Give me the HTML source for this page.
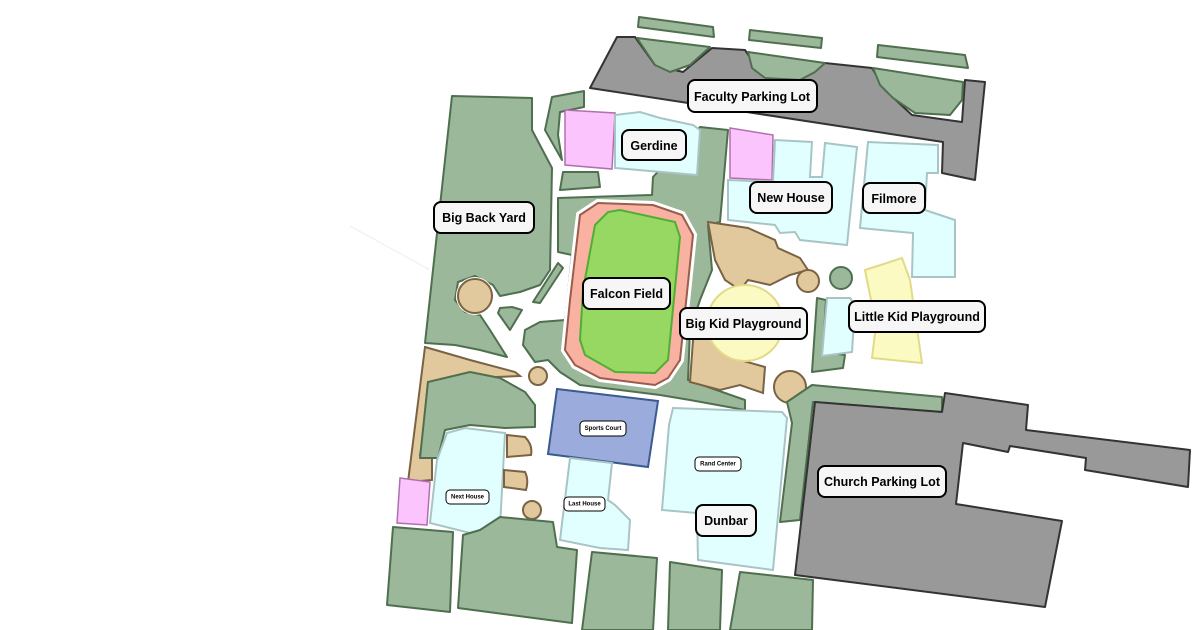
<!DOCTYPE html>
<html><head><meta charset="utf-8"><style>
html,body{margin:0;padding:0;background:#fff;width:1200px;height:630px;overflow:hidden}
svg{display:block}
.g{fill:#9bb89b;stroke:#4f6f4f;stroke-width:2;stroke-linejoin:round}
.k{fill:#999;stroke:#333;stroke-width:2;stroke-linejoin:round}
.p{fill:#fcc4fc;stroke:#b070b0;stroke-width:1.5}
.c{fill:#e2ffff;stroke:#a9c4c4;stroke-width:2}
.t{fill:#e2c99d;stroke:#7a6244;stroke-width:2}
.y{fill:#fafac2;stroke:#e2da86;stroke-width:2}
.lb rect{fill:#f6f6f6;stroke:#000;stroke-width:2}
.lb text{font-family:"Liberation Sans",sans-serif;font-weight:bold;font-size:12.5px;text-anchor:middle;dominant-baseline:central;fill:#000}
.sm rect{fill:#fff;stroke:#000;stroke-width:1}
.sm text{font-family:"Liberation Sans",sans-serif;font-weight:bold;font-size:6px;text-anchor:middle;dominant-baseline:central}
</style></head><body>
<svg width="1200" height="630" viewBox="0 0 1200 630" xmlns="http://www.w3.org/2000/svg">
<line x1="350" y1="226" x2="430" y2="270" stroke="#eee" stroke-width="1"/>
<!-- faculty lot -->
<polygon class="k" points="590,88 617,37 635,37 655,65 683,72 712,48 745,50 760,72 795,73 825,63 872,68 885,90 912,115 962,122 965,80 985,82 975,180 942,173 943,142"/>
<polygon class="g" points="637,38 710,47 690,65 670,72 655,65"/>
<polygon class="g" points="748,52 825,63 815,72 800,80 765,78 752,68"/>
<polygon class="g" points="873,68 963,82 962,100 950,115 915,113 893,98 880,85"/>
<polygon class="g" points="639,17 713,27 714,37 638,27"/>
<polygon class="g" points="750,30 822,38 821,48 749,40"/>
<polygon class="g" points="878,45 965,55 968,68 877,57"/>
<!-- big back yard -->
<polygon class="g" points="452,96 532,98 532,130 552,168 550,270 540,285 520,292 500,296 493,285 475,276 458,282 455,300 465,312 480,315 490,330 507,357 480,350 455,345 425,343"/>
<circle cx="475" cy="296" r="19" fill="#fff"/>
<circle cx="475" cy="296" r="17" class="t"/>
<polygon class="g" points="552,97 584,91 584,107 560,112 558,135 562,160 545,130"/>
<polygon class="g" points="563,172 598,172 600,187 560,190"/>
<polygon class="g" points="558,263 563,268 540,303 533,302"/>
<polygon class="g" points="500,308 512,307 522,310 510,330 498,313"/>
<!-- around field -->
<polygon class="g" points="558,198 652,195 653,177 700,127 728,130 720,222 708,225 712,270 700,300 690,330 688,380 745,400 745,410 690,400 660,395 620,390 580,385 560,372 548,360 535,362 523,345 525,330 540,322 565,320 572,255 558,252"/>
<polygon points="580,215 598,203 653,205 682,215 693,235 680,360 668,378 655,385 600,378 575,365 565,350 570,300" fill="#fff" stroke="#fff" stroke-width="8"/>
<polygon points="580,215 598,203 653,205 682,215 693,235 680,360 668,378 655,385 600,378 575,365 565,350 570,300" fill="#f9b2a2" stroke="#9a5c4c" stroke-width="2"/>
<polygon points="595,225 608,212 620,210 675,222 680,237 668,360 655,373 615,372 585,355 580,340 583,290" fill="#96d862" stroke="#4fae33" stroke-width="2"/>
<circle cx="538" cy="376" r="9" class="t"/>
<!-- left tan and green -->
<polygon class="t" points="425,347 470,360 515,372 520,376 470,378 428,382 422,445 420,455 432,457 432,480 408,482"/>
<polygon class="g" points="428,382 470,372 500,378 525,392 535,405 535,427 505,428 470,425 445,430 438,458 420,458"/>
<polygon class="p" points="400,478 430,482 427,525 397,523"/>
<polygon class="c" points="447,433 465,428 505,433 500,527 470,533 430,523 437,460"/>
<path class="t" d="M507,435 L525,437 Q533,445 531,455 L507,457 Z"/>
<path class="t" d="M504,470 L525,472 Q529,480 526,490 L504,487 Z"/>
<circle cx="532" cy="510" r="9" class="t"/>
<!-- bottom blocks -->
<polygon class="g" points="393,527 453,532 450,612 387,605"/>
<polygon class="g" points="463,535 480,530 500,517 553,522 557,547 577,550 572,623 458,608"/>
<polygon class="g" points="592,552 657,558 653,630 582,630"/>
<polygon class="g" points="670,562 722,570 720,630 668,630"/>
<polygon class="g" points="740,572 813,580 812,630 730,630"/>
<!-- sports court, last house, rand/dunbar -->
<polygon points="557,389 658,401 648,467 548,454" fill="#9aabdc" stroke="#3a5a90" stroke-width="2"/>
<polygon class="c" points="570,458 612,463 608,500 615,505 630,520 628,550 600,548 560,540"/>
<polygon class="c" points="673,408 782,412 787,418 773,570 698,560 697,513 662,510 669,425"/>
<!-- gerdine & new house -->
<polygon class="p" points="565,110 615,113 612,169 565,165"/>
<polygon class="c" points="615,115 640,112 660,118 693,125 700,130 697,175 615,168"/>
<polygon class="p" points="730,128 773,135 772,180 730,178"/>
<polygon class="c" points="728,180 773,182 775,140 812,142 810,177 822,177 825,143 857,147 847,245 800,240 795,232 780,233 775,225 728,220"/>
<polygon class="c" points="868,142 938,145 938,173 927,173 925,210 955,220 955,277 912,277 913,233 860,228"/>
<!-- playground area -->
<polygon class="t" points="708,222 748,228 775,240 778,248 800,258 808,270 790,275 770,285 748,280 740,290 725,280 715,260"/>
<polygon class="t" points="693,340 705,330 720,345 740,360 765,367 763,393 740,385 720,390 690,382"/>
<circle cx="745" cy="323" r="38" class="y"/>
<circle cx="790" cy="387" r="16" class="t"/>
<circle cx="808" cy="281" r="11" class="t"/>
<circle cx="841" cy="278" r="11" class="g"/>
<polygon class="g" points="817,298 826,300 823,352 845,355 843,368 812,372"/>
<polygon class="c" points="827,298 850,298 855,305 852,352 822,356"/>
<polygon class="y" points="865,270 902,258 910,280 922,363 872,358 876,325"/>
<!-- church -->
<polygon class="g" points="812,385 942,397 942,412 813,402 800,520 780,522 792,423 787,402"/>
<polygon class="k" points="815,402 942,412 945,393 1028,405 1026,430 1190,450 1188,487 1085,470 1086,458 1010,446 1008,452 963,443 956,504 1062,521 1045,607 795,575"/>
<!-- labels -->
<g class="lb">
<rect x="688" y="80" width="129" height="32" rx="7"/><text x="752" y="97">Faculty Parking Lot</text>
<rect x="622" y="130" width="64" height="30" rx="7"/><text x="654" y="146">Gerdine</text>
<rect x="434" y="202" width="100" height="31" rx="7"/><text x="484" y="218">Big Back Yard</text>
<rect x="750" y="182" width="82" height="31" rx="7"/><text x="791" y="198">New House</text>
<rect x="863" y="183" width="62" height="30" rx="7"/><text x="894" y="199">Filmore</text>
<rect x="583" y="278" width="87" height="31" rx="7"/><text x="626.5" y="294">Falcon Field</text>
<rect x="680" y="308" width="127" height="31" rx="7"/><text x="743.5" y="324">Big Kid Playground</text>
<rect x="849" y="301" width="136" height="31" rx="7"/><text x="917" y="317">Little Kid Playground</text>
<rect x="818" y="466" width="128" height="31" rx="7"/><text x="882" y="482">Church Parking Lot</text>
<rect x="696" y="505" width="60" height="31" rx="7"/><text x="726" y="521">Dunbar</text>
</g>
<g class="sm">
<rect x="580" y="421" width="46" height="15" rx="4"/><text x="603" y="429">Sports Court</text>
<rect x="695" y="457" width="46" height="14" rx="4"/><text x="718" y="464.5">Rand Center</text>
<rect x="446" y="490" width="43" height="14" rx="4"/><text x="467.5" y="497.5">Next House</text>
<rect x="564" y="497" width="41" height="14" rx="4"/><text x="584.5" y="504.5">Last House</text>
</g>
</svg>
</body></html>
